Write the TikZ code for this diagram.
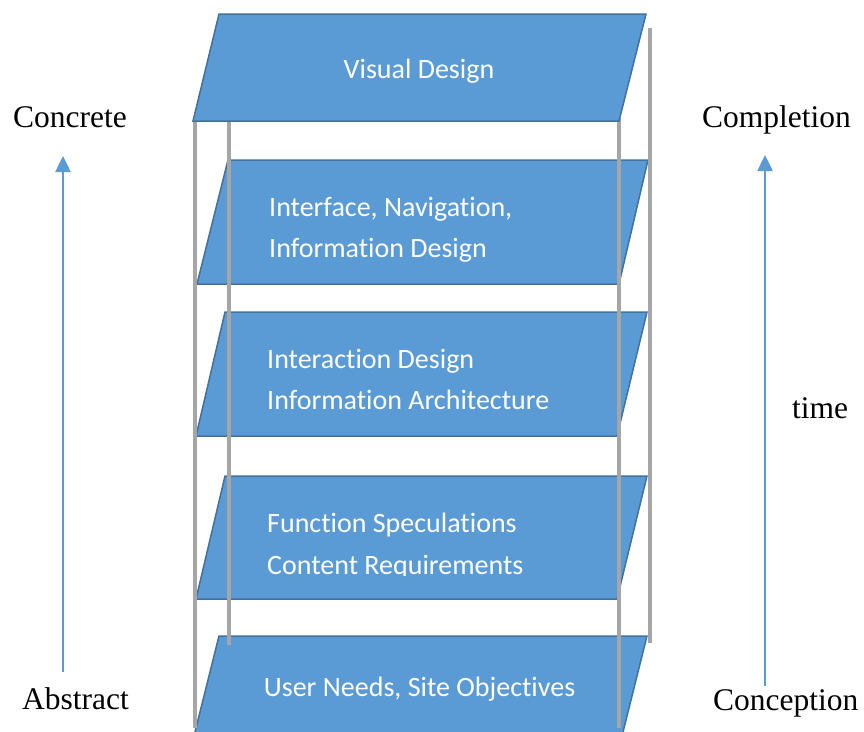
\documentclass[tikz,border=0pt]{standalone}
\usepackage{fontspec}
\setmainfont{Liberation Serif}
\newfontfamily\layerfont[Ligatures={NoCommon,NoRare}]{Carlito}
\usetikzlibrary{arrows.meta}
\definecolor{layerfill}{HTML}{5B9BD5}
\definecolor{layeredge}{HTML}{41719C}
\definecolor{polegray}{HTML}{A6A6A6}

\begin{document}
\begin{tikzpicture}[x=1pt,y=-1pt,
  layer/.style={fill=layerfill,draw=layeredge,line width=1.5pt,line join=miter},
  pole/.style={draw=polegray,line width=3.2pt},
  axis/.style={draw=layerfill,line width=2.5pt,-{Triangle[length=16pt,width=15pt]}},
  layertext/.style={font=\layerfont\fontsize{28}{33}\selectfont,text=white,inner sep=0pt},
  sidetext/.style={font=\fontsize{31.5}{38}\selectfont,inner sep=0pt,anchor=base west}]
\path[use as bounding box] (0,0) rectangle (864,731);
\clip (0,0) rectangle (864,731);

% lower layers of the stack
\path[layer] (219,636) -- (647,636) -- (616,760) -- (188,760) -- cycle;
\path[layer] (225,476) -- (647,476) -- (617,599) -- (196,599) -- cycle;
\path[layer] (225,312) -- (647,312) -- (617,436) -- (196,436) -- cycle;
\path[layer] (228,160) -- (648,160) -- (619,284) -- (197,284) -- cycle;

% supporting poles
\coordinate (p1t) at (195,118); \coordinate (p1b) at (195,728);
\coordinate (p2t) at (229,118); \coordinate (p2b) at (229,645);
\coordinate (p3t) at (619,118); \coordinate (p3b) at (619,728);
\coordinate (p4t) at (650,28);  \coordinate (p4b) at (650,643);
\draw[pole] (p1t) -- (p1b);
\draw[pole] (p2t) -- (p2b);
\draw[pole] (p3t) -- (p3b);
\draw[pole] (p4t) -- (p4b);

% top layer
\path[layer] (219,14) -- (646,14) -- (619,121) -- (193,121) -- cycle;

% layer labels
\node[layertext,anchor=base] (l1) at (419,78) {Visual Design};
\node[layertext,anchor=base west] (l2a) at (269,216) {Interface, Navigation,};
\node[layertext,anchor=base west] (l2b) at (269,257) {Information Design};
\node[layertext,anchor=base west] (l3a) at (267,368) {Interaction Design};
\node[layertext,anchor=base west] (l3b) at (267,409) {Information Architecture};
\node[layertext,anchor=base west] (l4a) at (267,532) {Function Speculations};
\begin{scope}
  \clip (250,540) rectangle (600,575.5);
  \node[layertext,anchor=base west] (l4b) at (267,574) {Content Requirements};
\end{scope}
\node[layertext,anchor=base] (l5) at (419.5,696) {User Needs, Site Objectives};

% side labels
\node[sidetext] (concrete) at (13,127) {Concrete};
\node[sidetext] (abstract) at (22,709) {Abstract};
\node[sidetext] (completion) at (702,127) {Completion};
\node[sidetext] (conception) at (713,710) {Conception};
\node[sidetext] (time) at (792,418) {time};

% direction arrows
\coordinate (la) at (63,672); \coordinate (lb) at (63,156);
\coordinate (ra) at (765,686); \coordinate (rb) at (765,155);
\draw[axis] (la) -- (lb);
\draw[axis] (ra) -- (rb);
\end{tikzpicture}
\end{document}
